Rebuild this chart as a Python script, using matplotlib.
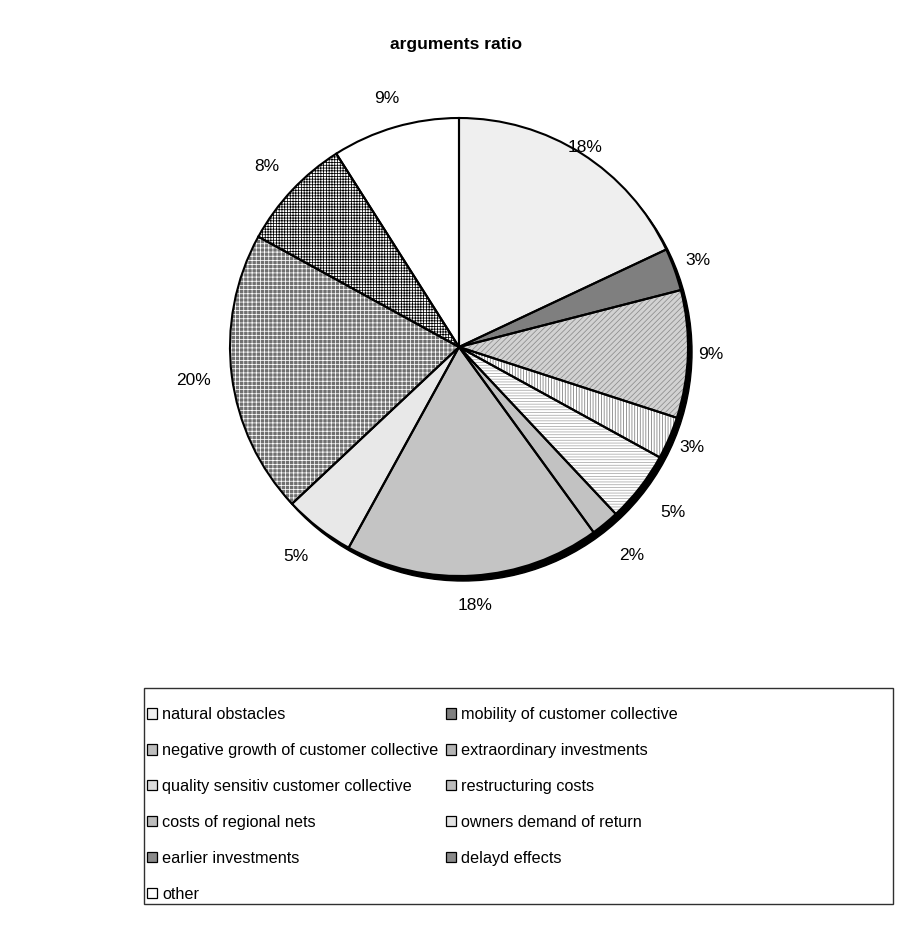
import numpy as np
import matplotlib.pyplot as plt
from matplotlib.patches import Patch, Circle, Rectangle

plt.rcParams['font.family'] = ['Liberation Sans', 'DejaVu Sans']
plt.rcParams['hatch.linewidth'] = 0.55

categories = [
    "natural obstacles",
    "mobility of customer collective",
    "negative growth of customer collective",
    "extraordinary investments",
    "quality sensitiv customer collective",
    "restructuring costs",
    "costs of regional nets",
    "owners demand of return",
    "earlier investments",
    "delayd effects",
    "other",
]
shares = [18, 3, 9, 3, 5, 2, 18, 5, 20, 8, 9]

# fill, hatch pattern, hatch colour and flat legend colour per slice
fills = ['#efefef', '#7f7f7f', '#d2d2d2', '#ffffff', '#ffffff', '#c2c2c2',
         '#c4c4c4', '#e8e8e8', '#707070', '#ffffff', '#ffffff']
hatches = [None, None, '//////', '||||||', '------', None,
           None, None, '++++', '++++++', None]
hatch_cols = ['#efefef', '#7f7f7f', '#8c8c8c', '#7a7a7a', '#a8a8a8', '#c2c2c2',
              '#c4c4c4', '#e8e8e8', '#ffffff', '#000000', '#ffffff']
key_cols = ['#f0f0f0', '#7f7f7f', '#bdbdbd', '#b4b4b4', '#dcdcdc', '#bcbcbc',
            '#bcbcbc', '#e2e2e2', '#8a8a8a', '#8a8a8a', '#ffffff']
# radial distance of each percentage label, in pie radii
label_dist = [1.03, 1.11, 1.10, 1.11, 1.18, 1.18, 1.13, 1.16, 1.17, 1.15, 1.13]

W, H = 909, 936
fig = plt.figure(figsize=(W / 100, H / 100), dpi=100)
ax = fig.add_axes([0, 0, 1, 1])

cx, cy, r = 459, H - 347, 229

# drop shadow
ax.add_patch(Circle((cx + 4, cy - 5), r, color='black', zorder=0))

wedges, _ = ax.pie(shares, startangle=90, counterclock=False,
                   center=(cx, cy), radius=r, colors=fills,
                   wedgeprops=dict(linewidth=0))
for w, h, hc in zip(wedges, hatches, hatch_cols):
    w.set_edgecolor(hc)
    if h:
        w.set_hatch(h)

# outlines
outline, _ = ax.pie(shares, startangle=90, counterclock=False,
                    center=(cx, cy), radius=r,
                    wedgeprops=dict(facecolor='none', edgecolor='black',
                                    linewidth=1.5))

# percentage labels at the middle angle of each slice
for w, v, d in zip(outline, shares, label_dist):
    ang = np.deg2rad((w.theta1 + w.theta2) / 2)
    ax.text(cx + d * r * np.cos(ang), cy + d * r * np.sin(ang), f"{v}%",
            ha='center', va='center', fontsize=12.5)

ax.set_xlim(0, W)
ax.set_ylim(0, H)
ax.set_aspect('auto')
ax.axis('off')

fig.text(456 / W, 1 - 44 / H, "arguments ratio", ha='center', va='center',
         fontsize=12.6, fontweight='bold')

# legend frame
fig.add_artist(Rectangle((144 / W, 1 - 904 / H), 749 / W, 216 / H,
                         transform=fig.transFigure, facecolor='none',
                         edgecolor='#303030', linewidth=1))

handles = [Patch(facecolor=c, edgecolor='black', linewidth=0.9) for c in key_cols]
left_idx = list(range(0, len(categories), 2))
right_idx = list(range(1, len(categories), 2))
for idx, x0 in ((left_idx, 147), (right_idx, 446)):
    fig.legend([handles[i] for i in idx], [categories[i] for i in idx],
               loc='upper left', bbox_to_anchor=(x0 / W, 1 - 707 / H),
               frameon=False, borderpad=0, borderaxespad=0,
               fontsize=11.7, handlelength=0.62, handleheight=0.62,
               handletextpad=0.32, labelspacing=1.29)

fig.savefig('out.png', dpi=100)
